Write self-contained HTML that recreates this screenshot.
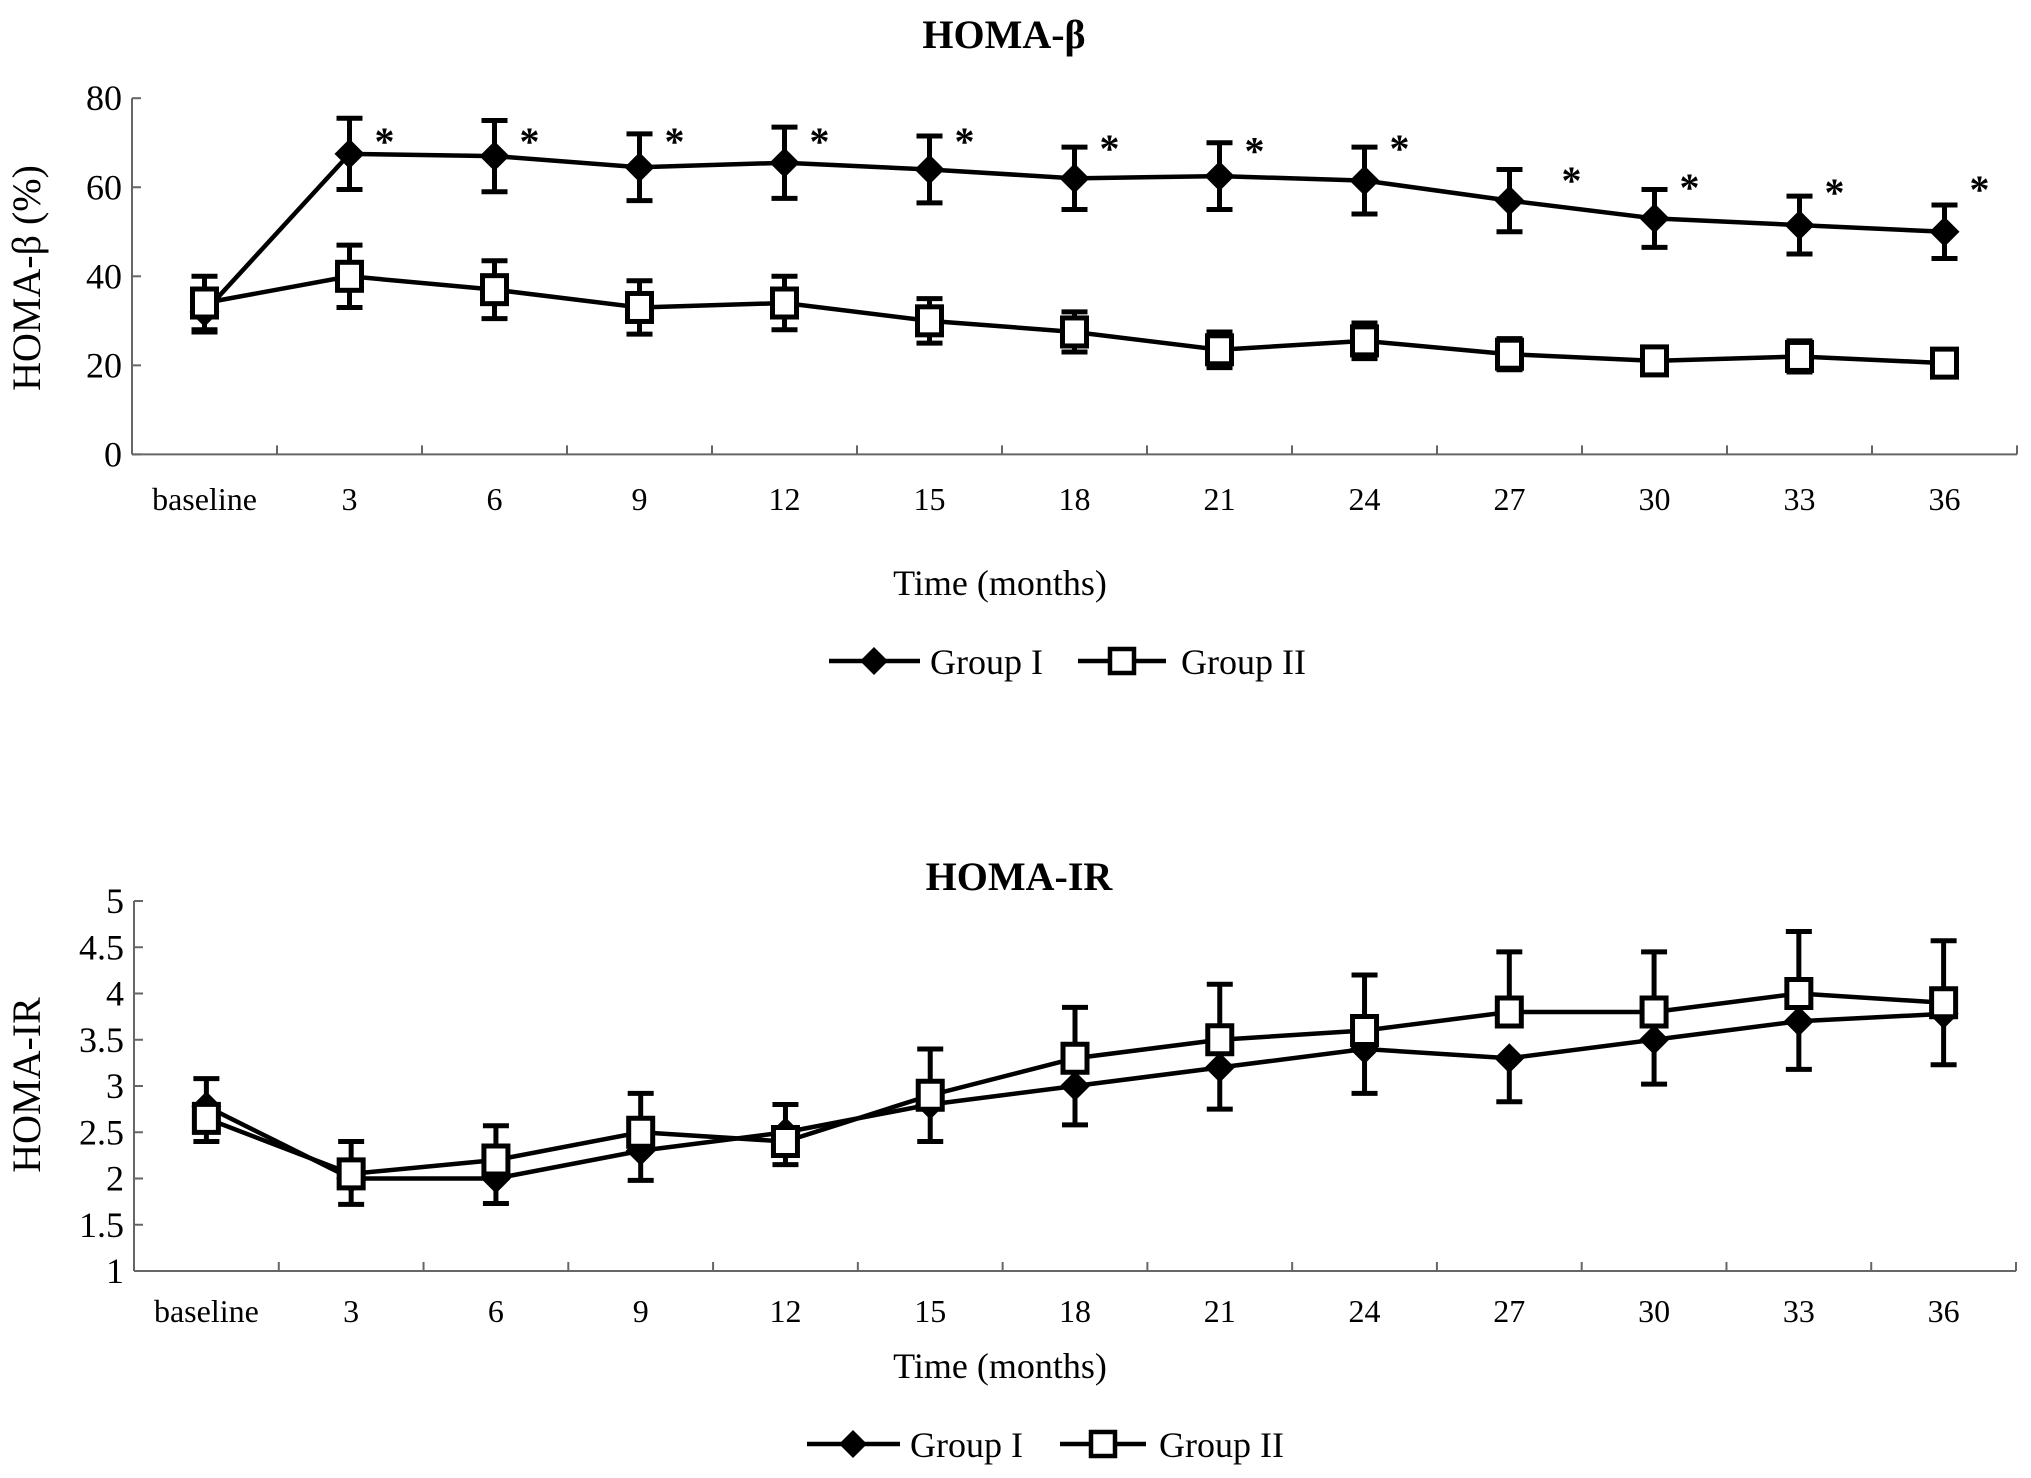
<!DOCTYPE html>
<html><head><meta charset="utf-8"><style>
body{margin:0;background:#fff}
svg text{font-family:"Liberation Serif",serif;fill:#000}
</style></head><body>
<svg id="s" width="2031" height="1473" viewBox="0 0 2031 1473" xmlns="http://www.w3.org/2000/svg">
<text x="1004" y="48" font-size="40" font-weight="bold" text-anchor="middle">HOMA-β</text>
<text transform="translate(40,278) rotate(-90)" font-size="40" text-anchor="middle">HOMA-β (%)</text>
<text x="1000" y="595" font-size="36" text-anchor="middle">Time (months)</text>
<g>
<line x1="829" y1="661" x2="920" y2="661" stroke="#000" stroke-width="4.5"/>
<path d="M874 647 L888 661 L874 675 L860 661Z" fill="#000"/>
<text x="930" y="674" font-size="36">Group I</text>
<line x1="1078" y1="661" x2="1166" y2="661" stroke="#000" stroke-width="4.5"/>
<rect x="1110" y="649" width="24" height="24" fill="#fff" stroke="#000" stroke-width="4.5"/>
<text x="1181" y="674" font-size="36">Group II</text>
</g>
<text x="1019" y="890" font-size="40" font-weight="bold" text-anchor="middle">HOMA-IR</text>
<text transform="translate(40,1085) rotate(-90)" font-size="40" text-anchor="middle">HOMA-IR</text>
<text x="1000" y="1378" font-size="36" text-anchor="middle">Time (months)</text>
<g>
<line x1="807" y1="1444" x2="900" y2="1444" stroke="#000" stroke-width="4.5"/>
<path d="M853 1430 L867 1444 L853 1458 L839 1444Z" fill="#000"/>
<text x="910" y="1457" font-size="36">Group I</text>
<line x1="1060" y1="1444" x2="1146" y2="1444" stroke="#000" stroke-width="4.5"/>
<rect x="1091" y="1432" width="24" height="24" fill="#fff" stroke="#000" stroke-width="4.5"/>
<text x="1159" y="1457" font-size="36">Group II</text>
</g>
</svg>
<script>
const categories=["baseline","3","6","9","12","15","18","21","24","27","30","33","36"];
const betaG1=[32,67.5,67,64.5,65.5,64,62,62.5,61.5,57,53,51.5,50];
const betaG1Err=[4.5,8,8,7.5,8,7.5,7,7.5,7.5,7,6.5,6.5,6];
const betaG2=[34,40,37,33,34,30,27.5,23.5,25.5,22.5,21,22,20.5];
const betaG2Err=[6,7,6.5,6,6,5,4.5,4,4,3.5,3,3.5,3];
const betaStars=[null,72.2,72.2,72.2,72.2,72.2,70.6,70.0,70.6,63.4,61.8,60.7,61.4];
const betaTicks=[0,20,40,60,80];
const irG1=[2.78,2.0,2.0,2.3,2.5,2.8,3.0,3.2,3.4,3.3,3.5,3.7,3.78];
const irG1Err=[0.38,0.28,0.27,0.32,0.35,0.4,0.42,0.45,0.48,0.47,0.48,0.52,0.55];
const irG2=[2.65,2.05,2.2,2.5,2.4,2.9,3.3,3.5,3.6,3.8,3.8,4.0,3.9];
const irG2Err=[0.43,0.35,0.37,0.42,0.4,0.5,0.55,0.6,0.6,0.65,0.65,0.67,0.67];
const irTicks=[1,1.5,2,2.5,3,3.5,4,4.5,5];

const NS="http://www.w3.org/2000/svg";
const svg=document.getElementById('s');
function mk(tag,attrs,parent){const e=document.createElementNS(NS,tag);for(const k in attrs)e.setAttribute(k,attrs[k]);(parent||svg).appendChild(e);return e;}

function chart(o){
  const g=mk('g',{});
  
  
  const bw=(o.x1-o.x0)/categories.length;
  const X=i=>o.x0+bw*(i+0.5);
  const Y=v=>o.yb-(v-o.vmin)/(o.vmax-o.vmin)*(o.yb-o.yt);
  mk('line',{x1:o.x0,y1:o.yt,x2:o.x0,y2:o.yb,stroke:'#666','stroke-width':2},g);
  mk('line',{x1:o.x0,y1:o.yb,x2:o.x1,y2:o.yb,stroke:'#666','stroke-width':2},g);
  o.ticks.forEach(t=>{
    mk('line',{x1:o.x0,y1:Y(t),x2:o.x0+9,y2:Y(t),stroke:'#666','stroke-width':2},g);
    const tx=mk('text',{x:o.x0-10,y:Y(t)+12,'font-size':36,'text-anchor':'end'},g);
    
    
    tx.textContent=String(t);
  });
  for(let i=1;i<=categories.length;i++){
    mk('line',{x1:o.x0+bw*i,y1:o.yb,x2:o.x0+bw*i,y2:o.yb-9,stroke:'#666','stroke-width':2},g);
  }
  categories.forEach((c,i)=>{
    const tx=mk('text',{x:X(i),y:o.labelY,'font-size':32,'text-anchor':'middle'},g);
    
    
    tx.textContent=c;
  });
  function errs(vals,err,up,down){
    vals.forEach((v,i)=>{
      const ends=[];if(up)ends.push(v+err[i]);if(down)ends.push(v-err[i]);
      ends.forEach(e=>{
        const eb=mk('g',{},g);
        
        
        mk('line',{x1:X(i),y1:Y(v),x2:X(i),y2:Y(e),stroke:'#000','stroke-width':5},eb);
        mk('line',{x1:X(i)-13,y1:Y(e),x2:X(i)+13,y2:Y(e),stroke:'#000','stroke-width':5},eb);
      });
    });
  }
  function line(vals,nm){
    const p=mk('polyline',{points:vals.map((v,i)=>X(i)+','+Y(v)).join(' '),fill:'none',stroke:'#000','stroke-width':4.5},g);
    
    
  }
  errs(o.g1,o.g1e,o.g1up,true);
  errs(o.g2,o.g2e,true,o.g2down);
  line(o.g1,'group-1-line');
  line(o.g2,'group-2-line');
  o.g1.forEach((v,i)=>{
    const x=X(i),y=Y(v);
    const d=mk('path',{d:`M${x} ${y-15} L${x+15} ${y} L${x} ${y+15} L${x-15} ${y}Z`,fill:'#000'},g);
    
    
  });
  o.g2.forEach((v,i)=>{
    const x=X(i),y=Y(v);
    const r=mk('rect',{x:x-12,y:y-14,width:24,height:28,fill:'#fff',stroke:'#000','stroke-width':5},g);
    
    
  });
  if(o.stars){
    o.stars.forEach((s,i)=>{
      if(s===null)return;
      const t=mk('text',{x:X(i)+(i===9?62:35),y:Y(s)+22,'font-size':40,'font-weight':'bold','text-anchor':'middle'},g);
      
      
      t.textContent='*';
    });
  }
}
chart({name:'homa-beta-chart',x0:132,x1:2017,yt:98.2,yb:454.4,vmin:0,vmax:80,ticks:betaTicks,labelY:510,
  g1:betaG1,g1e:betaG1Err,g2:betaG2,g2e:betaG2Err,g1up:true,g2down:true,stars:betaStars});
chart({name:'homa-ir-chart',x0:134,x1:2016,yt:901,yb:1271,vmin:1,vmax:5,ticks:irTicks,labelY:1322,
  g1:irG1,g1e:irG1Err,g2:irG2,g2e:irG2Err,g1up:false,g2down:false,stars:null});
</script>
</body></html>
